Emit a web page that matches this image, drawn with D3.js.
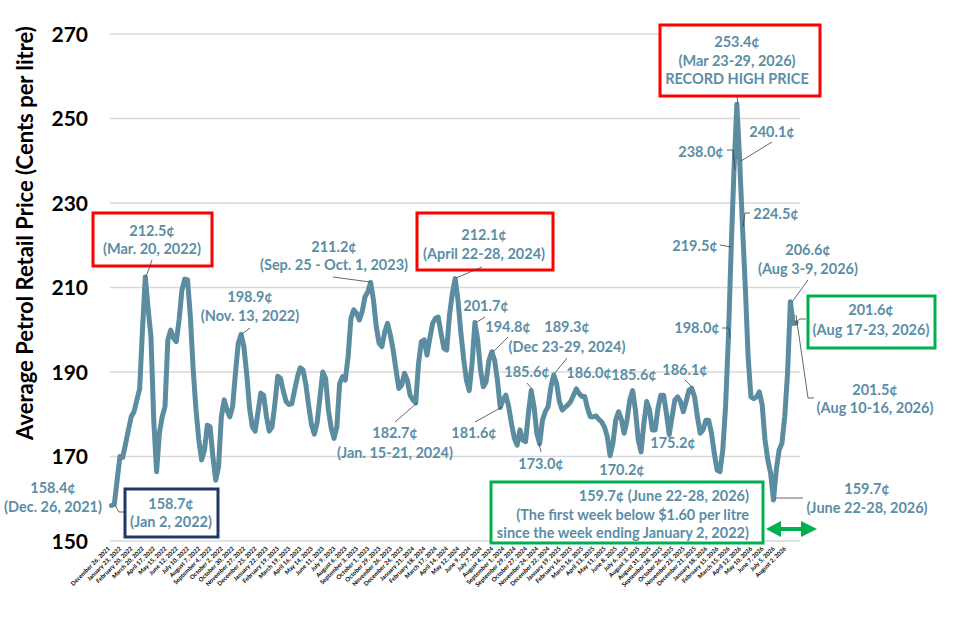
<!DOCTYPE html>
<html>
<head>
<meta charset="utf-8">
<script src="https://cdn.jsdelivr.net/npm/d3@7"></script>
<style>
  body { margin: 0; background: #fff; }
  svg text { font-family: Lato, "Open Sans", sans-serif; font-weight: bold; }
</style>
</head>
<body>
<div id="chart"></div>
<script>
// weekly average petrol price, cents per litre, week ending Dec 26 2021 ... Aug 23 2026
const prices = [
  158.4, 158.7, 164.4, 170.0, 169.8, 173.0, 176.3, 179.4, 180.6, 183.4,
  186.0, 200.0, 212.5, 205.0, 198.4, 178.6, 166.4, 175.5, 179.4, 181.8,
  197.6, 199.9, 198.0, 197.2, 202.3, 209.4, 212.0, 211.8, 203.1, 190.5,
  181.0, 173.9, 169.2, 171.5, 177.4, 177.0, 169.9, 164.4, 167.6, 179.4,
  183.4, 181.0, 179.4, 181.8, 189.7, 196.8, 198.9, 196.0, 189.5, 181.5,
  177.0, 176.0, 180.5, 185.0, 184.5, 179.5, 176.0, 177.0, 182.5, 189.0,
  188.5, 185.5, 183.0, 182.3, 182.5, 185.7, 188.8, 191.0, 190.5, 187.0,
  182.0, 177.5, 175.3, 178.0, 184.0, 190.0, 188.5, 181.0, 176.7, 174.3,
  177.0, 187.3, 188.9, 188.1, 193.6, 202.7, 204.7, 203.9, 202.3, 204.3,
  207.8, 209.0, 211.2, 207.0, 200.7, 196.8, 196.0, 199.5, 201.5, 198.7,
  195.2, 190.5, 186.1, 186.9, 189.7, 188.1, 184.5, 183.4, 182.7, 192.0,
  197.2, 197.6, 194.0, 198.0, 201.5, 202.7, 203.0, 199.1, 195.6, 195.2,
  203.5, 208.6, 212.1, 207.0, 199.5, 193.2, 188.1, 185.6, 192.0, 201.7,
  197.6, 190.5, 186.5, 187.7, 192.8, 194.8, 192.8, 188.1, 181.6, 183.4,
  184.5, 181.8, 177.8, 174.3, 172.7, 176.3, 173.9, 173.5, 180.2, 185.6,
  181.8, 175.5, 173.0, 178.6, 180.6, 181.8, 186.5, 189.3, 187.3, 183.0,
  181.0, 181.6, 182.2, 183.0, 184.5, 186.0, 184.9, 184.2, 184.2, 181.4,
  179.4, 179.4, 179.6, 178.8, 178.2, 177.0, 174.7, 170.2, 173.1, 178.6,
  180.6, 178.8, 175.5, 178.6, 183.4, 185.6, 181.0, 173.9, 171.1, 177.8,
  183.0, 181.0, 176.3, 176.3, 181.4, 184.5, 184.5, 180.2, 175.2, 179.4,
  183.4, 184.1, 183.0, 180.6, 183.0, 185.7, 186.1, 184.1, 179.4, 175.5,
  176.3, 178.6, 178.6, 175.5, 170.7, 166.8, 166.4, 171.5, 181.8, 198.0,
  219.5, 238.0, 253.4, 240.1, 224.5, 210.2, 193.6, 184.1, 183.7, 184.1,
  185.3, 182.2, 173.9, 169.2, 166.0, 159.7, 166.8, 171.5, 173.1, 179.4,
  189.7, 206.6, 201.5, 201.6
];

// one label every 4 weeks
const tickLabels = [
  "December 26, 2021", "January 23, 2022", "February 20, 2022", "March 20, 2022",
  "April 17, 2022", "May 15, 2022", "June 12, 2022", "July 10, 2022", "August 7, 2022",
  "September 4, 2022", "October 2, 2022", "October 30, 2022", "November 27, 2022",
  "December 25, 2022", "January 22, 2023", "February 19, 2023", "March 19, 2023",
  "April 16, 2023", "May 14, 2023", "June 11, 2023", "July 9, 2023", "August 6, 2023",
  "September 3, 2023", "October 1, 2023", "October 29, 2023", "November 26, 2023",
  "December 24, 2023", "January 21, 2024", "February 18, 2024", "March 17, 2024",
  "April 14, 2024", "May 12, 2024", "June 9, 2024", "July 7, 2024", "August 4, 2024",
  "September 1, 2024", "September 29, 2024", "October 27, 2024", "November 24, 2024",
  "December 22, 2024", "January 19, 2025", "February 16, 2025", "March 16, 2025",
  "April 13, 2025", "May 11, 2025", "June 8, 2025", "July 6, 2025", "August 3, 2025",
  "August 31, 2025", "September 28, 2025", "October 26, 2025", "November 23, 2025",
  "December 21, 2025", "January 18, 2026", "February 15, 2026", "March 15, 2026",
  "April 12, 2026", "May 10, 2026", "June 7, 2026", "July 5, 2026", "August 2, 2026"
];

const yTicks = [150, 170, 190, 210, 230, 250, 270];

const width = 953, height = 621;
const textCol = "#5b8ea6", lineCol = "#5b8ca0", leadCol = "#404040";
const red = "#ff0000", green = "#00b050", navy = "#1f3864";

const svg = d3.select("#chart").append("svg")
  .attr("width", width).attr("height", height);

const x = d3.scalePoint()
  .domain(d3.range(prices.length))
  .range([111.5, 796]);

const y = d3.scaleLinear()
  .domain([150, 270])
  .range([541, 34]);

// grid
svg.append("g")
  .selectAll("line")
  .data(yTicks)
  .join("line")
  .attr("x1", 110).attr("x2", 800)
  .attr("y1", d => y(d)).attr("y2", d => y(d))
  .attr("stroke", "#d9d9d9").attr("stroke-width", 1.5);

// y labels
svg.append("g")
  .selectAll("text")
  .data(yTicks)
  .join("text")
  .attr("x", 88).attr("y", d => y(d))
  .attr("dy", "0.36em")
  .attr("text-anchor", "end")
  .attr("font-size", 21)
  .attr("fill", "#000")
  .text(d => d);

svg.append("text")
  .attr("transform", "translate(25,233) rotate(-90)")
  .attr("text-anchor", "middle")
  .attr("dy", "0.35em")
  .attr("font-size", 22)
  .attr("fill", "#000")
  .text("Average Petrol Retail Price (Cents per litre)");

// x labels, rotated
svg.append("g")
  .selectAll("text")
  .data(tickLabels)
  .join("text")
  .attr("transform", (d, i) => `translate(${x(i * 4) - 1},549) rotate(-45)`)
  .attr("text-anchor", "end")
  .attr("font-size", 6)
  .attr("fill", "#000")
  .text(d => d);

// the price line
const line = d3.line()
  .x((d, i) => x(i))
  .y(d => y(d));

svg.append("path")
  .datum(prices)
  .attr("d", line)
  .attr("fill", "none")
  .attr("stroke", lineCol)
  .attr("stroke-width", 5)
  .attr("stroke-linejoin", "round")
  .attr("stroke-linecap", "round");

// annotation layout (text + pixel placement)
const notes = [
  { lines: ["158.4¢", "(Dec. 26, 2021)"], x: 53, y: [488, 507], lead: [[115,505],[119,512],[124,512]] },
  { lines: ["158.7¢", "(Jan 2, 2022)"], x: 171, y: [504, 522], box: [125, 489, 218, 537, navy] },
  { lines: ["212.5¢", "(Mar. 20, 2022)"], x: 152, y: [231, 249], box: [93, 213, 212, 266, red], lead: [[152,260],[146,277]] },
  { lines: ["198.9¢", "(Nov. 13, 2022)"], x: 250, y: [297, 316], lead: [[250,328],[242,334]] },
  { lines: ["211.2¢", "(Sep. 25 - Oct. 1, 2023)"], x: 334, y: [247, 265], lead: [[333,277],[370,282]] },
  { lines: ["212.1¢", "(April 22-28, 2024)"], x: 484, y: [235, 254], box: [417, 213, 553, 270, red], lead: [[482,267],[456,278]] },
  { lines: ["182.7¢", "(Jan. 15-21, 2024)"], x: 395, y: [433, 453], lead: [[395,422],[417,403]] },
  { lines: ["201.7¢"], x: 486, y: [306], lead: [[477,322],[485,317]] },
  { lines: ["194.8¢"], x: 508, y: [327], lead: [[508,337],[493,352]] },
  { lines: ["189.3¢", "(Dec 23-29, 2024)"], x: 567, y: [327, 347], lead: [[567,358],[555,373]] },
  { lines: ["181.6¢"], x: 474, y: [433], lead: [[475,422],[502,407]] },
  { lines: ["185.6¢"], x: 527, y: [372], lead: [[527,383],[532,389]] },
  { lines: ["173.0¢"], x: 541, y: [464], lead: [[541,452],[539,443]] },
  { lines: ["186.0¢"], x: 589, y: [373] },
  { lines: ["170.2¢"], x: 622, y: [470] },
  { lines: ["185.6¢"], x: 634, y: [375] },
  { lines: ["175.2¢"], x: 673, y: [443] },
  { lines: ["186.1¢"], x: 685, y: [370], lead: [[685,380],[692,387]] },
  { lines: ["253.4¢", "(Mar 23-29, 2026)", "RECORD HIGH PRICE"], x: 737, y: [42, 61, 79], box: [660, 25, 820, 96, red], lead: [[737,96],[738,104]] },
  { lines: ["240.1¢"], x: 772, y: [132], lead: [[772,142],[741,161]] },
  { lines: ["238.0¢"], x: 701, y: [152], lead: [[727,150],[733,150],[735,170]] },
  { lines: ["224.5¢"], x: 776, y: [214], lead: [[750,213],[745,213],[743,227]] },
  { lines: ["219.5¢"], x: 695, y: [246], lead: [[720,245],[731,247]] },
  { lines: ["198.0¢"], x: 697, y: [328], lead: [[722,328],[729,328],[730,338]] },
  { lines: ["206.6¢", "(Aug 3-9, 2026)"], x: 808, y: [250, 269], lead: [[808,280],[792,302]] },
  { lines: ["201.6¢", "(Aug 17-23, 2026)"], x: 871, y: [310, 330], box: [808, 296, 935, 348, green], lead: [[795,323],[800,319],[806,319]] },
  { lines: ["201.5¢", "(Aug 10-16, 2026)"], x: 875, y: [390, 408], lead: [[796,315],[808,398],[814,398]] },
  { lines: ["159.7¢", "(June 22-28, 2026)"], x: 867, y: [489, 508], lead: [[775,498],[803,498]] },
  { lines: ["159.7¢ (June 22-28, 2026)", "(The first week below $1.60 per litre", "since the week ending January 2, 2022)"],
    x: 749, y: [496, 515, 533], anchor: "end", box: [491, 482, 763, 543, green] }
];

const g = svg.append("g");

notes.forEach(n => {
  if (n.box) {
    const [x0, y0, x1, y1, c] = n.box;
    g.append("rect")
      .attr("x", x0).attr("y", y0)
      .attr("width", x1 - x0).attr("height", y1 - y0)
      .attr("fill", "#fff")
      .attr("stroke", c).attr("stroke-width", 3);
  }
  if (n.lead) {
    g.append("path")
      .attr("d", d3.line()(n.lead))
      .attr("fill", "none")
      .attr("stroke", leadCol).attr("stroke-width", 0.8);
  }
  n.lines.forEach((t, k) => {
    g.append("text")
      .attr("x", n.x).attr("y", n.y[k])
      .attr("dy", "0.35em")
      .attr("text-anchor", n.anchor || "middle")
      .attr("font-size", 14.5)
      .attr("fill", textCol)
      .text(t);
  });
});

// green double arrow under the last weeks
const ay = 529;
svg.append("path")
  .attr("d", d3.line()([
    [766, ay], [781, ay - 8], [781, ay - 2], [801, ay - 2], [801, ay - 8], [817, ay],
    [801, ay + 8], [801, ay + 2], [781, ay + 2], [781, ay + 8]
  ]) + "Z")
  .attr("fill", green);
</script>
</body>
</html>
